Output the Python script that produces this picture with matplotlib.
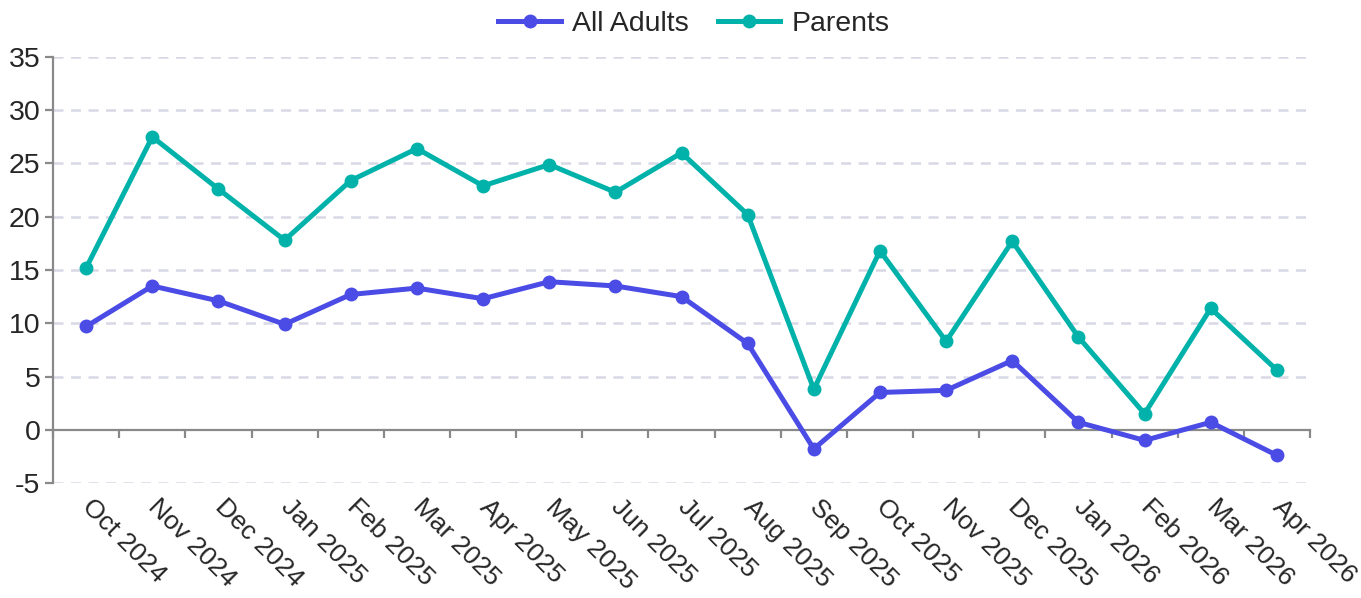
import matplotlib.pyplot as plt
import numpy as np

# Monthly series
months = ["Oct 2024", "Nov 2024", "Dec 2024", "Jan 2025", "Feb 2025", "Mar 2025",
          "Apr 2025", "May 2025", "Jun 2025", "Jul 2025", "Aug 2025", "Sep 2025",
          "Oct 2025", "Nov 2025", "Dec 2025", "Jan 2026", "Feb 2026", "Mar 2026",
          "Apr 2026"]
all_adults = [9.7, 13.5, 12.1, 9.9, 12.7, 13.3, 12.3, 13.9, 13.5, 12.5, 8.1, -1.8,
              3.5, 3.7, 6.5, 0.7, -1.0, 0.7, -2.4]
parents = [15.2, 27.5, 22.6, 17.8, 23.4, 26.4, 22.9, 24.9, 22.3, 26.0, 20.2, 3.8,
           16.8, 8.3, 17.7, 8.7, 1.5, 11.4, 5.6]
y_ticks = [-5, 0, 5, 10, 15, 20, 25, 30, 35]

plt.rcParams['font.family'] = ['Liberation Sans', 'DejaVu Sans']
axis_col = '#898989'
txt_col = '#262626'

fig = plt.figure(figsize=(13.61, 5.98), dpi=100)
ax = fig.add_axes([0.039, 0.1923, 0.9235, 0.7124])

x = np.arange(len(months))
ax.plot(x, all_adults, color='#4B4BE6', lw=3.6, marker='o', ms=9, label='All Adults', zorder=3)
ax.plot(x, parents, color='#00B2A9', lw=3.6, marker='o', ms=9, label='Parents', zorder=3)

ax.set_xlim(-0.5, len(months) - 0.5)
ax.set_ylim(-5, 35)
ax.set_yticks(y_ticks)
ax.set_yticklabels([str(v) for v in y_ticks])

# dashed grid except at zero, where the category axis sits
for v in y_ticks:
    if v != 0:
        ax.axhline(v, color='#D8D8E6', lw=1.8, ls=(0, (4, 3)), zorder=1)

for s in ['top', 'right']:
    ax.spines[s].set_visible(False)
ax.spines['left'].set_color(axis_col)
ax.spines['left'].set_linewidth(1.6)
ax.spines['bottom'].set_position(('data', 0))
ax.spines['bottom'].set_color(axis_col)
ax.spines['bottom'].set_linewidth(1.6)

ax.tick_params(axis='y', colors=axis_col, length=6, width=1.6, labelsize=20.5,
               labelcolor=txt_col, pad=3)

# category boundaries as tick marks, month names as labels
ax.set_xticks(np.arange(-0.5, len(months)), minor=True)
ax.tick_params(axis='x', which='minor', length=6, width=1.6, colors=axis_col)
ax.set_xticks(x)
ax.set_xticklabels(months, rotation=-45, ha='left', va='center', rotation_mode='anchor')
ax.tick_params(axis='x', which='major', length=0, labelsize=19, labelcolor=txt_col, pad=53)

fig.legend(loc='upper center', bbox_to_anchor=(0.51, 1.025), ncol=2, frameon=False,
           fontsize=20.5, handlelength=2.2, handletextpad=0.4, columnspacing=1.0,
           labelcolor=txt_col)

fig.savefig('out.png', dpi=100)
